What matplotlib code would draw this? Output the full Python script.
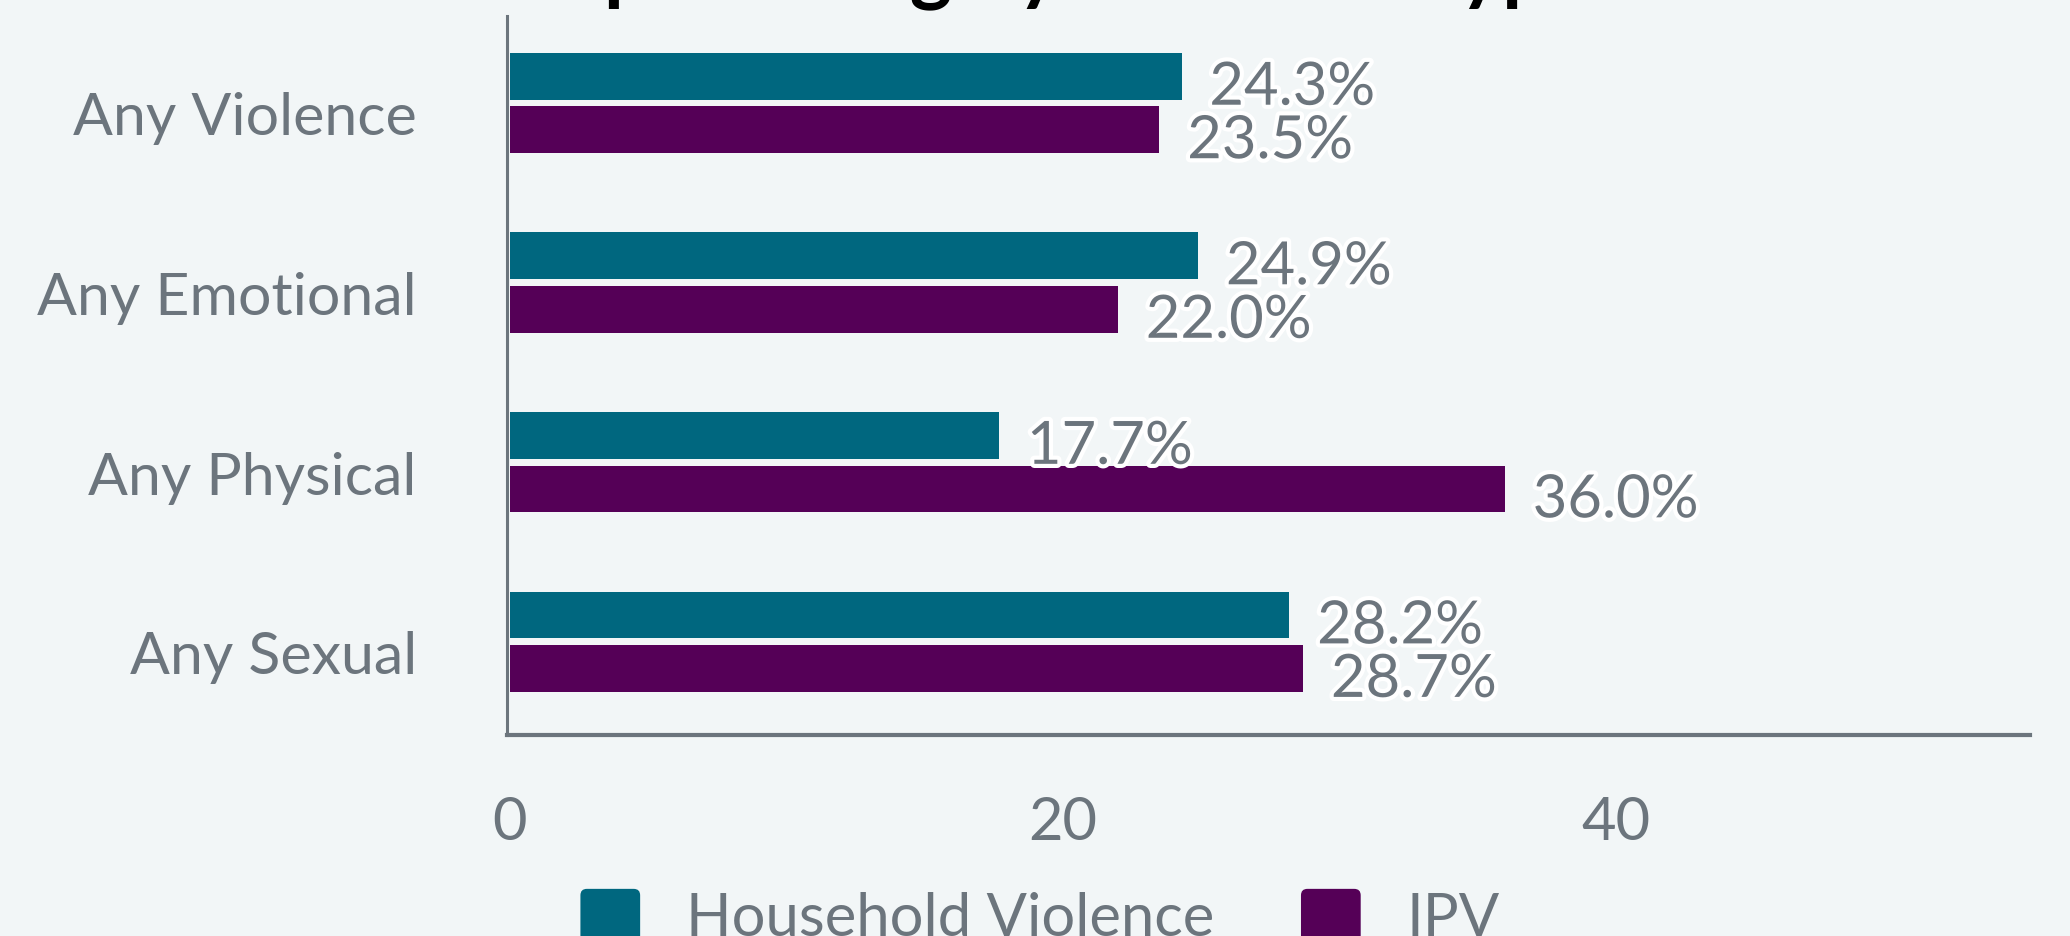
import matplotlib
matplotlib.use("Agg")
import matplotlib.pyplot as plt
import matplotlib.patheffects as pe
import matplotlib.transforms as mtransforms
from matplotlib.patches import Patch, FancyBboxPatch
from matplotlib.legend_handler import HandlerPatch
import numpy as np

categories = ["Any Violence", "Any Emotional", "Any Physical", "Any Sexual"]
household = [24.3, 24.9, 17.7, 28.2]
ipv = [23.5, 22.0, 36.0, 28.7]
series_names = ["Household Violence", "IPV"]
xticks = [0, 20, 40]

TEAL = "#00677f"
PURPLE = "#550057"
GRAY = "#6c757d"
BG = "#f2f6f7"

plt.rcParams["font.family"] = ["Lato", "DejaVu Sans"]


class RoundHandler(HandlerPatch):
    # legend swatches with rounded corners
    def create_artists(self, legend, orig_handle, xdescent, ydescent,
                       width, height, fontsize, trans):
        p = FancyBboxPatch((-xdescent, -ydescent), width, height,
                           boxstyle=f"round,pad=0,rounding_size={0.12 * height}",
                           facecolor=orig_handle.get_facecolor(),
                           edgecolor="none", transform=trans)
        return [p]


fig = plt.figure(figsize=(20.7, 9.36), dpi=100, facecolor=BG)
ax = fig.add_axes([0.245, 0.2147, 0.7357, 0.7683], facecolor=BG)

y = np.arange(len(categories))
h = 0.26
off = 0.149
b1 = ax.barh(y - off, household, height=h, color=TEAL)
b2 = ax.barh(y + off, ipv, height=h, color=PURPLE)

for bars in (b1, b2):
    for rect in bars:
        w = rect.get_width()
        ax.annotate(f"{w:.1f}%", (w, rect.get_y() + rect.get_height() / 2),
                    xytext=(20, -20.5), textcoords="offset points",
                    ha="left", va="baseline", fontsize=43, color=GRAY,
                    path_effects=[pe.withStroke(linewidth=6, foreground="white")])

ax.set_ylim(3.52, -0.485)
ax.set_xlim(-0.1, 55)
ax.set_yticks(y)
ax.set_yticklabels(categories)
ax.set_xticks(xticks)
ax.tick_params(axis="y", length=0, pad=65, labelsize=42.5, labelcolor=GRAY)
ax.tick_params(axis="x", length=0, pad=44, labelsize=43, labelcolor=GRAY)

# category labels sit a little below the group centre
shift = mtransforms.ScaledTranslation(0, -0.11, fig.dpi_scale_trans)
for lab in ax.get_yticklabels():
    lab.set_transform(lab.get_transform() + shift)

for s in ("top", "right"):
    ax.spines[s].set_visible(False)
ax.spines["left"].set_color(GRAY)
ax.spines["left"].set_linewidth(2.2)
ax.spines["bottom"].set_color(GRAY)
ax.spines["bottom"].set_linewidth(3)

fig.text(0.5, 1.0064, "Help-seeking by Violence Type", ha="center",
         va="baseline", fontsize=58, fontweight="bold", color="black")

handles = [Patch(facecolor=TEAL, label=series_names[0]),
           Patch(facecolor=PURPLE, label=series_names[1])]
fig.legend(handles=handles, loc="upper center", bbox_to_anchor=(0.5025, 1 - 859 / 936),
           ncol=2, frameon=False, fontsize=43, labelcolor=GRAY,
           handlelength=1.0, handleheight=1.0, handletextpad=0.77,
           columnspacing=1.45, borderpad=0,
           handler_map={Patch: RoundHandler()})

fig.savefig("out.png", dpi=100, facecolor=BG)
